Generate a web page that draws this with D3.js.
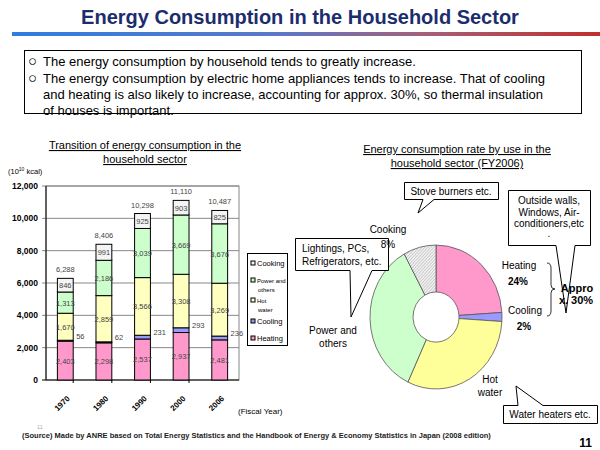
<!DOCTYPE html>
<html><head><meta charset="utf-8">
<script src="https://cdn.jsdelivr.net/npm/d3@7"></script>
<style>body{margin:0;background:#fff}svg{display:block}text{font-family:Arial,"Liberation Sans",sans-serif}</style>
</head><body>
<svg id="c" width="600" height="450"></svg>
<script>
const years = ["1970","1980","1990","2000","2006"];
const heating = [2403,2298,2537,2937,2481];
const cooling = [56,62,231,293,236];
const hotWater = [1670,2859,3566,3308,3269];
const power = [1313,2186,3039,3669,3676];
const cooking = [846,991,925,903,825];
const totals = [6288,8406,10298,11110,10487];
const yTicks = [0,2000,4000,6000,8000,10000,12000];
const seriesNames = ["Heating","Cooling","Hot water","Power and others","Cooking"];
const seriesColors = ["#ff99cc","#9999ff","#ffffc0","#ccffcc","#f4f4f4"];
const pieNames = ["Heating","Cooling","Hot water","Power and others","Cooking"];
const pieShares = [24,2,31,35,8];

const svg = d3.select("#c");
const defs = svg.append("defs");
const lg = defs.append("linearGradient").attr("id","hg");
[["0%","#2f7de0"],["45%","#5a78c8"],["70%","#a4607a"],["100%","#c0302c"]].forEach(s=>lg.append("stop").attr("offset",s[0]).attr("stop-color",s[1]));
const pat = defs.append("pattern").attr("id","hatch").attr("width",3).attr("height",3).attr("patternUnits","userSpaceOnUse");
pat.append("rect").attr("width",3).attr("height",3).attr("fill","#f2f2f2");
pat.append("path").attr("d","M0,3 L3,0").attr("stroke","#b0b0b0").attr("stroke-width",0.7);

// header
svg.append("text").attr("x",300).attr("y",24).attr("text-anchor","middle").attr("font-size",20).attr("font-weight","bold").attr("fill","#1c2d6e").text("Energy Consumption in the Household Sector");
svg.append("rect").attr("x",12).attr("y",32).attr("width",588).attr("height",4).attr("fill","url(#hg)");
svg.append("rect").attr("x",24.5).attr("y",50.5).attr("width",557).attr("height",63).attr("fill","#fff").attr("stroke","#000");
const bl = [["○","The energy consumption by household tends to greatly increase.",66],
 ["○","The energy consumption by electric home appliances tends to increase. That of cooling",83],
 ["","and heating is also likely to increase, accounting for approx. 30%, so thermal insulation",99],
 ["","of houses is important.",115]];
bl.forEach(b=>{
  if(b[0]) svg.append("text").attr("x",28).attr("y",b[2]).attr("font-size",15).text(b[0]);
  svg.append("text").attr("x",43).attr("y",b[2]).attr("font-size",13).text(b[1]);
});

// left chart titles
[["Transition of energy consumption in the",149],["household sector",163]].forEach(t=>{
  svg.append("text").attr("x",145).attr("y",t[1]).attr("text-anchor","middle").attr("font-size",11).attr("text-decoration","underline").text(t[0]);
});
const unit = svg.append("text").attr("x",8).attr("y",174).attr("font-size",7.5);
unit.append("tspan").text("(10");
unit.append("tspan").attr("font-size",5).attr("dy",-3).text("10");
unit.append("tspan").attr("dy",3).text(" kcal)");

const x = d3.scaleBand().domain(years).range([46,239]).paddingInner(0.59).paddingOuter(0.295);
const y = d3.scaleLinear().domain([0,12000]).range([380,186]);
const g = svg.append("g");
g.append("rect").attr("x",46).attr("y",186).attr("width",193).attr("height",194).attr("fill","none").attr("stroke","#888");
yTicks.forEach(t=>{
  g.append("line").attr("x1",42).attr("x2",239).attr("y1",y(t)).attr("y2",y(t)).attr("stroke",t===0?"#000":"#888");
  g.append("text").attr("x",38).attr("y",y(t)+3).attr("text-anchor","end").attr("font-size",8.5).attr("font-weight","bold").text(d3.format(",")(t));
});
g.append("line").attr("x1",46).attr("x2",46).attr("y1",186).attr("y2",380).attr("stroke","#000");
years.forEach((yr,i)=>{ if(i>0){const xx=x(yr)-x.step()*0.295*2; g.append("line").attr("x1",xx).attr("x2",xx).attr("y1",380).attr("y2",383).attr("stroke","#000");}});

const rows = years.map((yr,i)=>({yr,Heating:heating[i],Cooling:cooling[i],"Hot water":hotWater[i],"Power and others":power[i],Cooking:cooking[i],total:totals[i]}));
const stack = d3.stack().keys(seriesNames)(rows);
stack.forEach((s,si)=>{
  s.forEach((d,i)=>{
    g.append("rect").attr("x",x(d.data.yr)).attr("width",x.bandwidth()).attr("y",y(d[1])).attr("height",y(d[0])-y(d[1]))
      .attr("fill",seriesColors[si]).attr("stroke","#000").attr("stroke-width",1);
    const v = d[1]-d[0];
    if(si===1){
      g.append("text").attr("x",x(d.data.yr)+x.bandwidth()+3).attr("y",(y(d[0])+y(d[1]))/2-2).attr("font-size",7.5).attr("fill","#444").text(v);
    } else {
      g.append("text").attr("x",x(d.data.yr)+x.bandwidth()/2).attr("y",(y(d[0])+y(d[1]))/2+3).attr("text-anchor","middle").attr("font-size",7.5).attr("fill","#444").text(d3.format(",")(v));
    }
  });
});
rows.forEach(d=>{
  g.append("text").attr("x",x(d.yr)+x.bandwidth()/2).attr("y",y(d.total)-6).attr("text-anchor","middle").attr("font-size",7.5).attr("fill","#444").text(d3.format(",")(d.total));
});
years.forEach(yr=>{
  const cx = x(yr)+x.bandwidth()/2+5, cy=399;
  g.append("text").attr("transform",`translate(${cx},${cy}) rotate(-45)`).attr("text-anchor","end").attr("font-size",8).attr("font-weight","bold").text(yr);
});
svg.append("text").attr("x",238).attr("y",414).attr("font-size",8).text("(Fiscal Year)");

// legend
const leg = svg.append("g");
leg.append("rect").attr("x",247.5).attr("y",253.5).attr("width",40).attr("height",92).attr("fill","#fff").attr("stroke","#000");
const legItems = [["Cooking",4,266,null],["Power and",3,283,"others"],["Hot",2,303,"water"],["Cooling",1,324,null],["Heating",0,341,null]];
legItems.forEach(l=>{
  leg.append("rect").attr("x",251).attr("y",l[2]-5).attr("width",4).attr("height",4).attr("fill",seriesColors[l[1]]).attr("stroke","#000");
  const fs = l[3]?6:7.5;
  leg.append("text").attr("x",257).attr("y",l[2]).attr("font-size",fs).text(l[0]);
  if(l[3]) leg.append("text").attr("x",258).attr("y",l[2]+9).attr("font-size",fs).text(l[3]);
});

// right chart
[["Energy consumption rate by use in the",153],["household sector (FY2006)",167]].forEach(t=>{
  svg.append("text").attr("x",457).attr("y",t[1]).attr("text-anchor","middle").attr("font-size",11).attr("text-decoration","underline").text(t[0]);
});
const pieData = d3.pie().sort(null)(pieShares);
const arc = d3.arc().innerRadius(23).outerRadius(66);
const pg = svg.append("g").attr("transform","translate(436,317) scale(1,1.09)");
const pieFills = ["#ff99cc","#9999ff","#ffff99","#ccffcc","url(#hatch)"];
pieData.forEach((d,i)=>{
  pg.append("path").attr("d",arc(d)).attr("fill",pieFills[i]).attr("stroke","#555").attr("stroke-width",0.8).attr("vector-effect","non-scaling-stroke");
});

// callouts
const co = [
 "M404.5,182.5 H498.5 V199.5 H434 L418,213 L423,199.5 H404.5 Z",
 "M508.5,190.5 H590.5 V245.5 H575 L566,313 L556,245.5 H508.5 Z",
 "M295.5,238.5 H388.5 V270.5 H372 L351,317 L350,270.5 H295.5 Z",
 "M503.5,405.5 H518 L516,386 L543,405.5 H597.5 V423.5 H503.5 Z"];
co.forEach(p=>svg.append("path").attr("d",p).attr("fill","#fff").attr("stroke","#000").attr("stroke-width",1));
const t10 = (txt,xx,yy,anchor="middle",bold=false,fs=10)=>svg.append("text").attr("x",xx).attr("y",yy).attr("text-anchor",anchor).attr("font-size",fs).attr("font-weight",bold?"bold":"normal").text(txt);
t10("Stove burners etc.",451,194.5);
t10("Outside walls,",549,204);
t10("Windows, Air-",549,215.5);
t10("conditioners,etc",549,227);
t10(".",549,237);
t10("Lightings, PCs,",302,252,"start");
t10("Refrigerators, etc.",302,265,"start");
t10("Water heaters etc.",550,418);

t10("Cooking",388,233);
t10("8%",388,248);
t10("Heating",519,269);
t10("24%",518,285,"middle",true);
t10("Cooling",525,314);
t10("2%",524,330,"middle",true);
t10("Hot",490,383);
t10("water",490,396);
t10("Power and",333,334);
t10("others",333,347);
svg.append("path").attr("d","M547,263 Q551,263 551,268 V285 Q551,289 555,289 Q551,289 551,293 V311 Q551,316 547,316").attr("fill","none").attr("stroke","#333").attr("stroke-width",1);
t10("Appro",577,292,"middle",true,11);
t10("x. 30%",576,304,"middle",true,11);

// footer
svg.append("text").attr("x",37).attr("y",429).attr("font-size",5.5).attr("fill","#aaa").text("11");
svg.append("text").attr("x",22).attr("y",438).attr("font-size",7.5).attr("font-weight","bold").attr("fill","#222").text("(Source) Made by ANRE based on Total Energy Statistics and the Handbook of Energy & Economy Statistics in Japan (2008 edition)");
svg.append("text").attr("x",592).attr("y",447).attr("text-anchor","end").attr("font-size",12).attr("font-weight","bold").text("11");
</script>
</body></html>
